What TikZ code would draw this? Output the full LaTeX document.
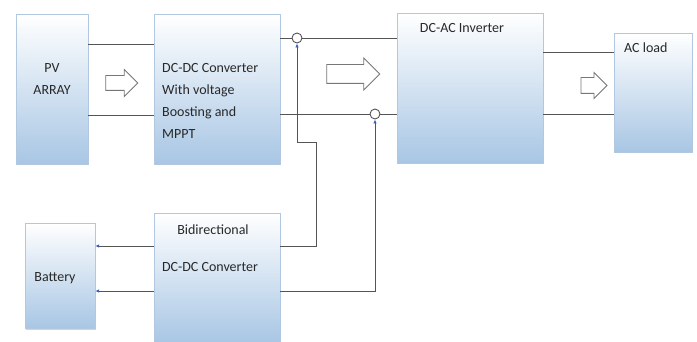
\documentclass[tikz,border=0pt]{standalone}
\usepackage{fontspec}
\setmainfont{Carlito}
\usetikzlibrary{shapes.arrows, shadows, arrows.meta}
\definecolor{kastenblau}{RGB}{168,198,228}
\definecolor{kastenrand}{RGB}{178,200,224}
\definecolor{liniengrau}{RGB}{85,85,85}
\definecolor{spitzeblau}{RGB}{55,95,185}
\definecolor{textgrau}{RGB}{40,40,40}

\begin{document}
\begin{tikzpicture}[x=1pt, y=-1pt, font=\fontsize{14}{22}\selectfont,
    kasten/.style={draw=kastenrand, top color=white, bottom color=kastenblau, inner sep=0pt,
      drop shadow={shadow xshift=1pt, shadow yshift=-1.5pt, opacity=0.35}},
    beschrift/.style={text=textgrau, inner sep=0pt},
    leitung/.style={draw=liniengrau, line width=0.9pt},
    pfeil/.style={leitung, -{Latex[color=spitzeblau, length=4pt, width=3.5pt]}},
    knoten/.style={circle, draw=liniengrau, line width=0.9pt, fill=white, minimum size=10pt, inner sep=0pt},
    hohlpfeil/.style={single arrow, draw=liniengrau!80, line width=0.9pt, fill=white, inner xsep=0pt}]
    \useasboundingbox (0,0) rectangle (697,342);
    % Bloecke
    \node[kasten, minimum width=72pt, minimum height=150pt] (pv) at (52,89) {};
    \node[kasten, minimum width=126pt, minimum height=150pt] (dcdc) at (217,89) {};
    \node[kasten, minimum width=146pt, minimum height=150pt] (inv) at (470,88) {};
    \node[kasten, minimum width=78pt, minimum height=119pt] (load) at (653,92.5) {};
    \node[kasten, minimum width=70pt, minimum height=105pt] (bat) at (60,275.5) {};
    \node[kasten, minimum width=126pt, minimum height=130pt] (bidi) at (217,278) {};
    % Beschriftung
    \node[beschrift, align=center] (pvtext) at (52,79) {PV\\ARRAY};
    \node[beschrift, align=left, anchor=west] (dcdctext) at (162,101) {DC-DC Converter\\With voltage\\Boosting and\\MPPT};
    \node[beschrift] (invtext) at (462,28) {DC-AC Inverter};
    \node[beschrift, anchor=west] (loadtext) at (624,48) {AC load};
    \node[beschrift] (battext) at (55,278) {Battery};
    \node[beschrift] (biditext) at (213,230) {Bidirectional};
    \node[beschrift] (bidiconv) at (210,267) {DC-DC Converter};
    % Leistungsfluss
    \node[hohlpfeil, minimum height=32pt, inner ysep=7pt, single arrow head extend=6pt] (fluss1) at (118,83) {};
    \node[hohlpfeil, minimum height=53pt, inner ysep=9pt, single arrow head extend=6.5pt] (fluss2) at (348.5,74) {};
    \node[hohlpfeil, minimum height=26pt, inner ysep=7.5pt, single arrow head extend=5pt] (fluss3) at (590,85.5) {};
    % Verbindungspunkte
    \node[knoten] (j1) at (297,38) {};
    \node[knoten] (j2) at (375,114) {};
    \coordinate (knick) at (316,142);
    % Leitungen
    \draw[leitung] (pv.east |- 0,44) -- (dcdc.west |- 0,44);
    \draw[leitung] (pv.east |- 0,115) -- (dcdc.west |- 0,115);
    \draw[leitung] (dcdc.east |- j1) -- (j1) -- (inv.west |- j1);
    \draw[leitung] (dcdc.east |- j2) -- (j2) -- (inv.west |- j2);
    \draw[leitung] (inv.east |- 0,52) -- (load.west |- 0,52);
    \draw[leitung] (inv.east |- 0,114) -- (load.west |- 0,114);
    \draw[pfeil] (bidi.east |- 0,246) -| (knick) -| (j1.south);
    \draw[pfeil] (bidi.east |- 0,291) -| (j2.south);
    \draw[pfeil] (bidi.west |- 0,246) -- (bat.east |- 0,246);
    \draw[pfeil] (bidi.west |- 0,291) -- (bat.east |- 0,291);
\end{tikzpicture}
\end{document}
